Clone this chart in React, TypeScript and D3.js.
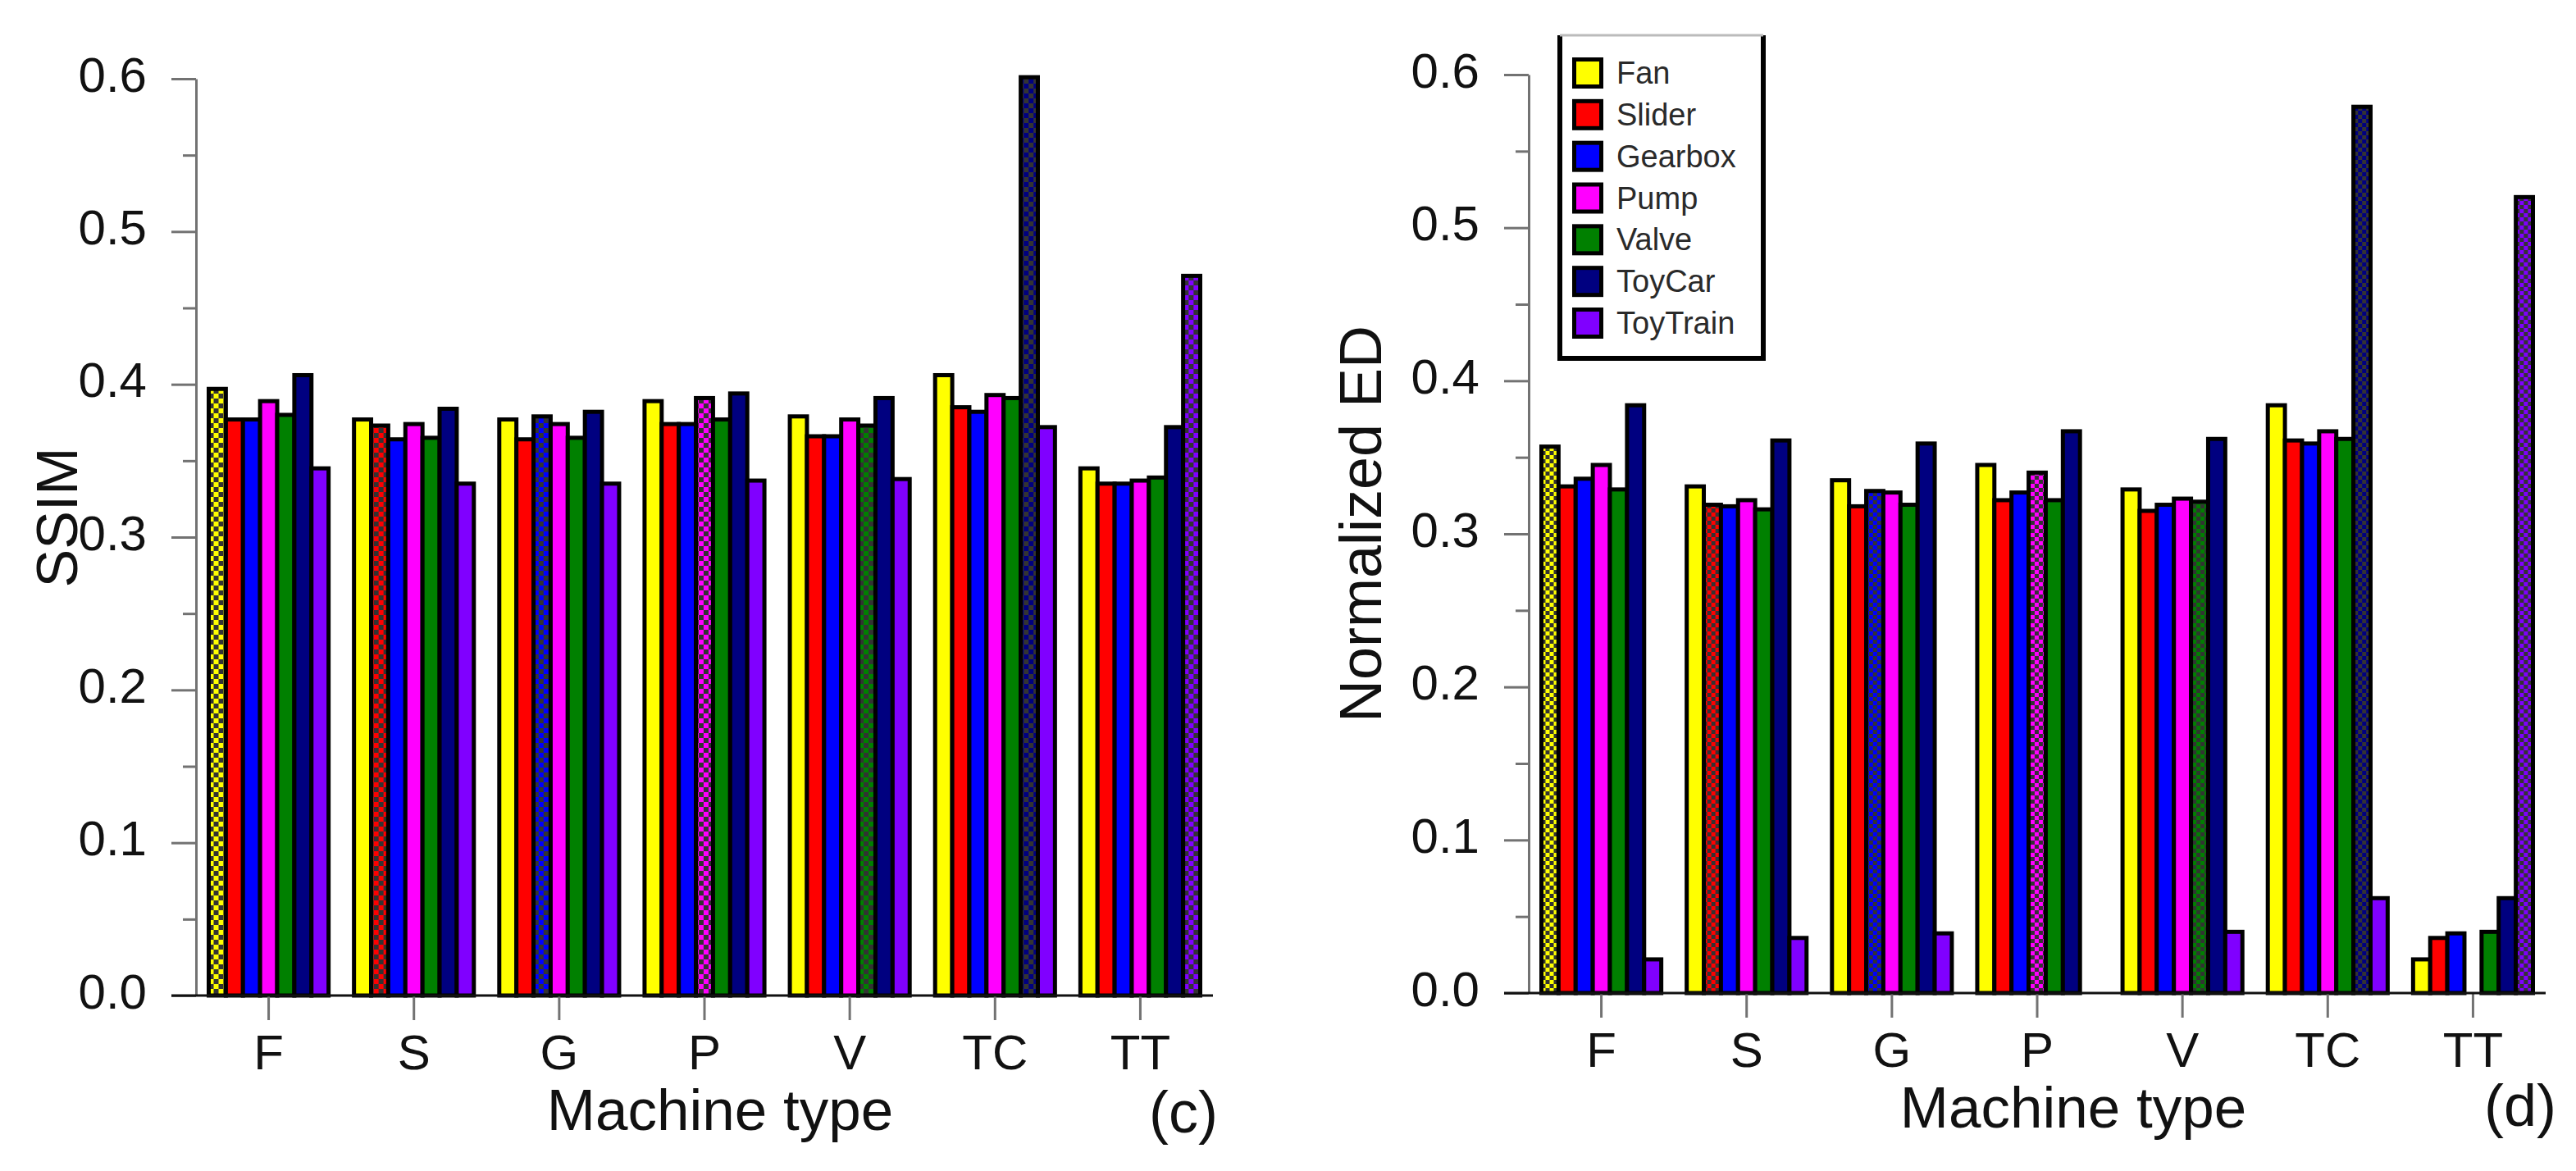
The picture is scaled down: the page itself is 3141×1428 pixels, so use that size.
import React, { useEffect, useRef } from "react";
import * as d3 from "d3";

// categories (machine types) and series (models)
const categories = ["F", "S", "G", "P", "V", "TC", "TT"];
const seriesNames = ["Fan", "Slider", "Gearbox", "Pump", "Valve", "ToyCar", "ToyTrain"];
const seriesColors = ["#ffff00", "#ff0000", "#0000ff", "#ff00ff", "#008000", "#000080", "#8000ff"];
const yTickValues = [0, 0.1, 0.2, 0.3, 0.4, 0.5, 0.6];
const yMinorValues = [0.05, 0.15, 0.25, 0.35, 0.45, 0.55];

// (c) SSIM, one array per series, ordered like categories
const ssimFan = [0.397, 0.377, 0.377, 0.389, 0.379, 0.406, 0.345];
const ssimSlider = [0.377, 0.373, 0.364, 0.374, 0.366, 0.385, 0.335];
const ssimGearbox = [0.377, 0.364, 0.379, 0.374, 0.366, 0.382, 0.335];
const ssimPump = [0.389, 0.374, 0.374, 0.391, 0.377, 0.393, 0.337];
const ssimValve = [0.380, 0.365, 0.365, 0.377, 0.373, 0.391, 0.339];
const ssimToyCar = [0.406, 0.384, 0.382, 0.394, 0.391, 0.601, 0.372];
const ssimToyTrain = [0.345, 0.335, 0.335, 0.337, 0.338, 0.372, 0.471];

// (d) Normalized ED (null = no bar)
const edFan = [0.357, 0.331, 0.335, 0.345, 0.329, 0.384, 0.022];
const edSlider = [0.331, 0.319, 0.318, 0.322, 0.315, 0.361, 0.036];
const edGearbox = [0.336, 0.318, 0.328, 0.327, 0.319, 0.359, 0.039];
const edPump = [0.345, 0.322, 0.327, 0.340, 0.323, 0.367, null];
const edValve = [0.329, 0.316, 0.319, 0.322, 0.321, 0.362, 0.040];
const edToyCar = [0.384, 0.361, 0.359, 0.367, 0.362, 0.579, 0.062];
const edToyTrain = [0.022, 0.036, 0.039, null, 0.040, 0.062, 0.520];

const FONT = "'Liberation Sans', Arial, Helvetica, sans-serif";
const AXIS_GRAY = "#727272";

interface PanelConfig {
    id: string;
    data: (number | null)[][];
    axisX: number;      // x of the y axis
    axisWidth: number;  // length of the x axis from the y axis
    yBase: number;      // pixel of value 0
    yTop: number;       // pixel of value 0.6
    yLabel: string;
    yLabelX: number;
    yLabelY: number;
    yLabelSize: number;
    xTitleX: number;
    xTitleY: number;
    letter: string;
    letterX: number;
    letterY: number;
    checker: number;
    legend: boolean;
}

const panels: PanelConfig[] = [
    {
        id: "c",
        data: [ssimFan, ssimSlider, ssimGearbox, ssimPump, ssimValve, ssimToyCar, ssimToyTrain],
        axisX: 239, axisWidth: 1240, yBase: 1214, yTop: 96,
        yLabel: "SSIM", yLabelX: 94, yLabelY: 631, yLabelSize: 70,
        xTitleX: 878, xTitleY: 1378,
        letter: "(c)", letterX: 1401, letterY: 1381,
        checker: 6, legend: false
    },
    {
        id: "d",
        data: [edFan, edSlider, edGearbox, edPump, edValve, edToyCar, edToyTrain],
        axisX: 1864, axisWidth: 1240, yBase: 1211, yTop: 91,
        yLabel: "Normalized ED", yLabelX: 1684, yLabelY: 639, yLabelSize: 72,
        xTitleX: 2528, xTitleY: 1375,
        letter: "(d)", letterX: 3029, letterY: 1373,
        checker: 5, legend: true
    }
];

const drawPanel = (svg: d3.Selection<SVGSVGElement, unknown, null, undefined>, cfg: PanelConfig) => {
    const defs = svg.append("defs");

    // checkered fill for the "own" bar in every group
    seriesColors.forEach((c, i) => {
        const s = cfg.checker;
        const p = defs.append("pattern")
            .attr("id", `chk-${cfg.id}-${i}`)
            .attr("patternUnits", "userSpaceOnUse")
            .attr("width", s * 2)
            .attr("height", s * 2);
        p.append("rect").attr("width", s * 2).attr("height", s * 2).attr("fill", c);
        p.append("rect").attr("width", s).attr("height", s).attr("fill", "#333");
        p.append("rect").attr("x", s).attr("y", s).attr("width", s).attr("height", s).attr("fill", "#333");
    });

    const x0 = d3.scaleBand<string>()
        .domain(categories)
        .range([cfg.axisX, cfg.axisX + cfg.axisWidth])
        .paddingInner(0.175)
        .paddingOuter(0.0875);

    const x1 = d3.scaleBand<string>()
        .domain(seriesNames)
        .range([0, x0.bandwidth()]);

    const y = d3.scaleLinear()
        .domain([0, 0.6])
        .range([cfg.yBase, cfg.yTop]);

    const g = svg.append("g").attr("class", `panel-${cfg.id}`);

    // bars
    categories.forEach((cat, ci) => {
        const group = g.append("g").attr("transform", `translate(${x0(cat) || 0},0)`);
        seriesNames.forEach((name, si) => {
            const v = cfg.data[si][ci];
            if (v == null) return;
            group.append("rect")
                .attr("x", x1(name) || 0)
                .attr("y", y(v))
                .attr("width", x1.bandwidth())
                .attr("height", cfg.yBase - y(v))
                .attr("fill", si === ci ? `url(#chk-${cfg.id}-${si})` : seriesColors[si])
                .attr("stroke", "#000")
                .attr("stroke-width", 5);
        });
    });

    // y axis: major ticks with labels
    const yAxis = g.append("g")
        .attr("transform", `translate(${cfg.axisX},0)`)
        .call(d3.axisLeft(y).tickValues(yTickValues).tickSize(30).tickSizeOuter(0)
            .tickPadding(30).tickFormat(d3.format(".1f")));
    yAxis.select(".domain").attr("stroke", AXIS_GRAY).attr("stroke-width", 3);
    yAxis.selectAll(".tick line").attr("stroke", AXIS_GRAY).attr("stroke-width", 3);
    yAxis.selectAll(".tick text")
        .attr("dy", "0.25em")
        .attr("fill", "#111")
        .style("font-family", FONT)
        .style("font-size", "60px");

    // y axis: minor ticks
    const yMinor = g.append("g")
        .attr("transform", `translate(${cfg.axisX},0)`)
        .call(d3.axisLeft(y).tickValues(yMinorValues).tickSize(16).tickSizeOuter(0).tickFormat(() => ""));
    yMinor.select(".domain").remove();
    yMinor.selectAll(".tick line").attr("stroke", AXIS_GRAY).attr("stroke-width", 3);

    // x axis
    const xAxis = g.append("g")
        .attr("transform", `translate(0,${cfg.yBase})`)
        .call(d3.axisBottom(x0).tickSize(30).tickSizeOuter(0).tickPadding(17));
    xAxis.select(".domain").remove();
    xAxis.selectAll(".tick line").attr("stroke", AXIS_GRAY).attr("stroke-width", 3);
    xAxis.selectAll(".tick text")
        .attr("fill", "#111")
        .style("font-family", FONT)
        .style("font-size", "60px");

    g.append("line")
        .attr("x1", cfg.axisX - 30)
        .attr("x2", cfg.axisX + cfg.axisWidth)
        .attr("y1", cfg.yBase)
        .attr("y2", cfg.yBase)
        .attr("stroke", "#111")
        .attr("stroke-width", 3);

    // titles
    g.append("text")
        .attr("transform", `translate(${cfg.yLabelX},${cfg.yLabelY}) rotate(-90)`)
        .attr("text-anchor", "middle")
        .attr("fill", "#111")
        .style("font-family", FONT)
        .style("font-size", `${cfg.yLabelSize}px`)
        .text(cfg.yLabel);

    g.append("text")
        .attr("x", cfg.xTitleX)
        .attr("y", cfg.xTitleY)
        .attr("text-anchor", "middle")
        .attr("fill", "#111")
        .style("font-family", FONT)
        .style("font-size", "71px")
        .text("Machine type");

    g.append("text")
        .attr("x", cfg.letterX)
        .attr("y", cfg.letterY)
        .attr("fill", "#111")
        .style("font-family", FONT)
        .style("font-size", "72px")
        .text(cfg.letter);

    if (!cfg.legend) return;

    // legend box (top edge is a thin grey line)
    const lx0 = cfg.axisX + 38, lx1 = cfg.axisX + 286, ly0 = 43, ly1 = 437;
    const legend = g.append("g").attr("class", "legend");
    legend.append("rect")
        .attr("x", lx0).attr("y", ly0)
        .attr("width", lx1 - lx0).attr("height", ly1 - ly0)
        .attr("fill", "#fff");
    legend.append("path")
        .attr("d", `M${lx0},${ly0} V${ly1} H${lx1} V${ly0}`)
        .attr("fill", "none")
        .attr("stroke", "#000")
        .attr("stroke-width", 6);
    legend.append("line")
        .attr("x1", lx0).attr("x2", lx1)
        .attr("y1", ly0).attr("y2", ly0)
        .attr("stroke", "#bbb")
        .attr("stroke-width", 3);

    const ly = d3.scalePoint<string>().domain(seriesNames).range([89, 394]);
    seriesNames.forEach((name, i) => {
        const cy = ly(name) || 0;
        legend.append("rect")
            .attr("x", cfg.axisX + 55.5)
            .attr("y", cy - 16.5)
            .attr("width", 33)
            .attr("height", 33)
            .attr("fill", seriesColors[i])
            .attr("stroke", "#000")
            .attr("stroke-width", 5);
        legend.append("text")
            .attr("x", cfg.axisX + 107)
            .attr("y", cy + 13)
            .attr("fill", "#2a2a2a")
            .style("font-family", FONT)
            .style("font-size", "38px")
            .text(name);
    });
};

const App: React.FC = () => {
    const svgRef = useRef<SVGSVGElement>(null);

    useEffect(() => {
        if (!svgRef.current) return;
        const svg = d3.select(svgRef.current);
        svg.selectAll("*").remove();
        svg.append("rect").attr("width", 3141).attr("height", 1428).attr("fill", "#fff");
        panels.forEach(p => drawPanel(svg, p));
    }, []);

    return (
        <svg
            ref={svgRef}
            width={3141}
            height={1428}
            style={{ position: "absolute", top: 0, left: 0, display: "block" }}
        />
    );
};

export default App;
